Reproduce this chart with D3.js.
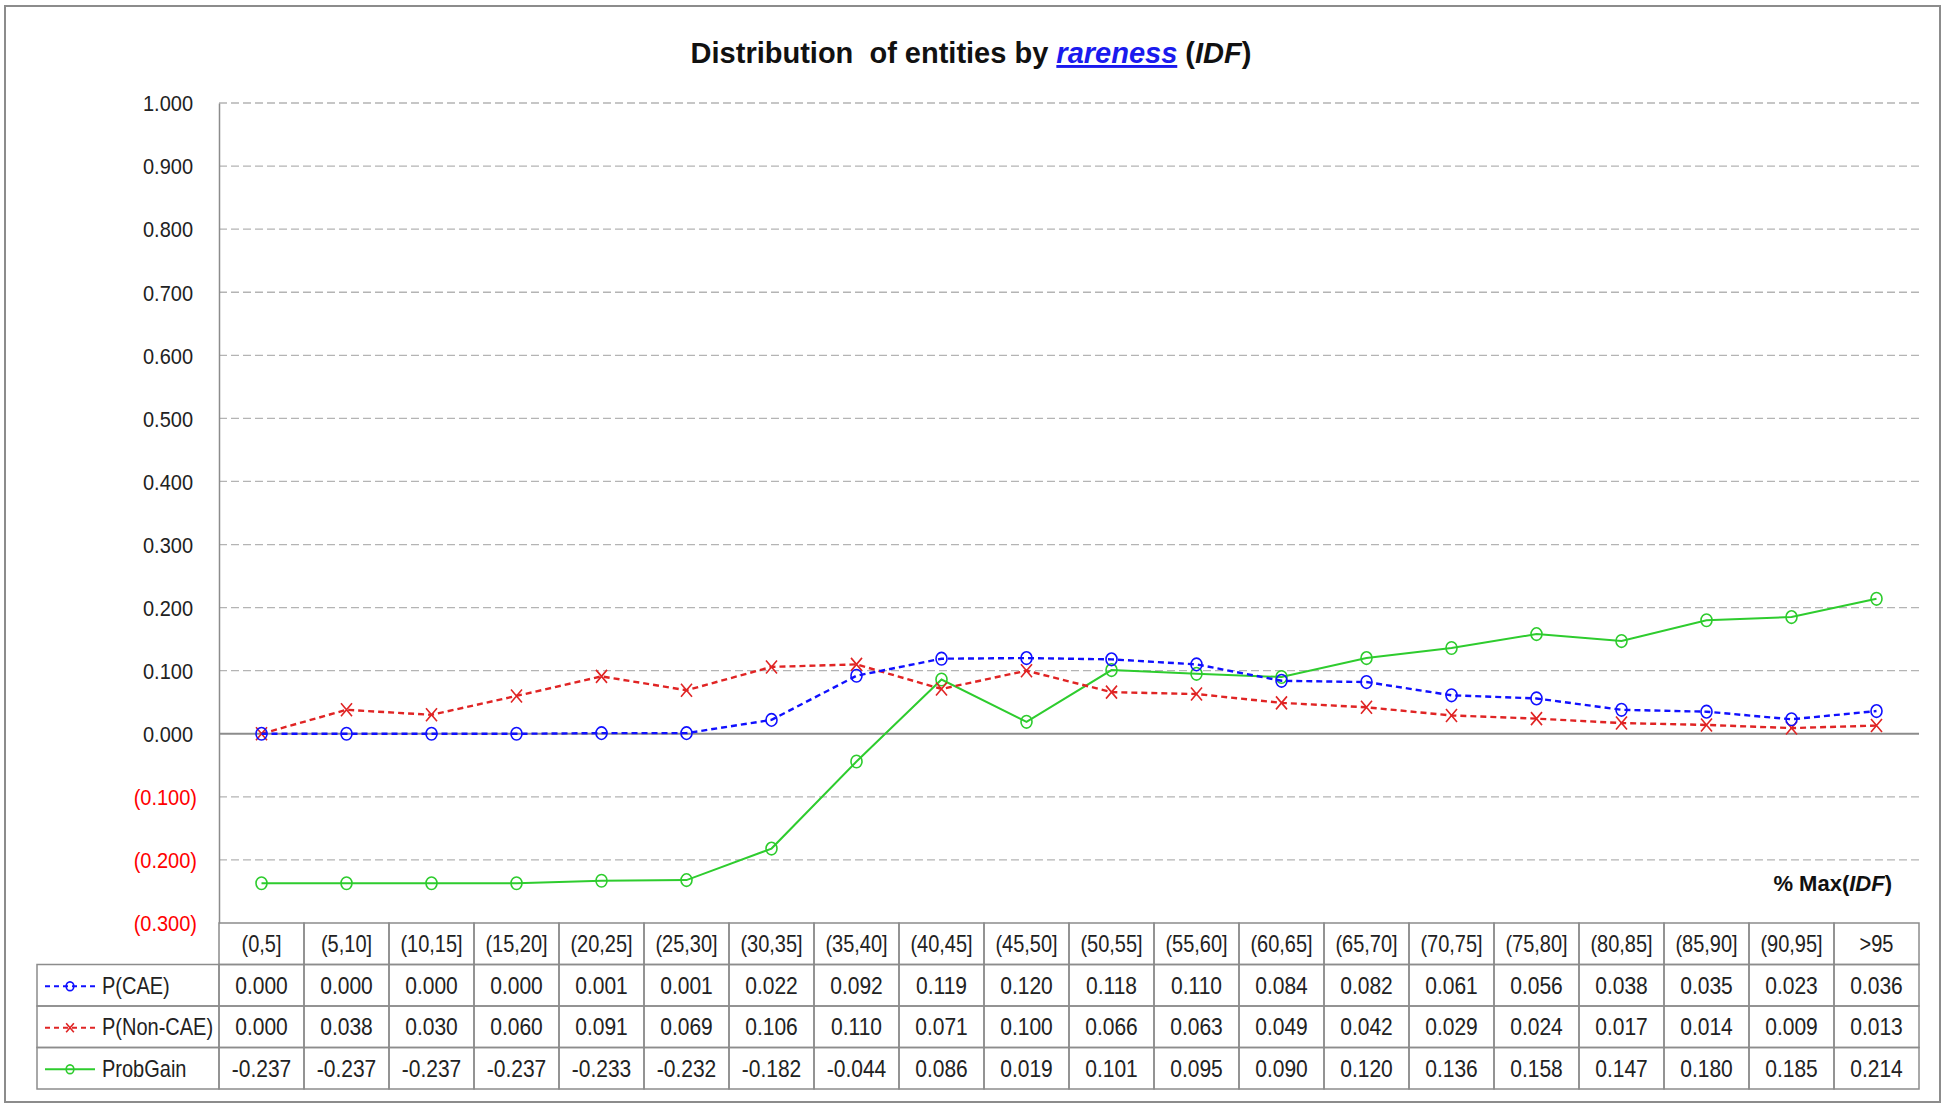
<!DOCTYPE html>
<html>
<head>
<meta charset="utf-8">
<script src="https://cdn.jsdelivr.net/npm/d3@7"></script>
<style>
  body { margin: 0; background: #fff; }
  text { font-family: "Liberation Sans", Arial, sans-serif; }
</style>
</head>
<body>
<div id="chart"></div>
<script>
// bins of % Max(IDF)
var categories = ["(0,5]", "(5,10]", "(10,15]", "(15,20]", "(20,25]", "(25,30]", "(30,35]",
  "(35,40]", "(40,45]", "(45,50]", "(50,55]", "(55,60]", "(60,65]", "(65,70]", "(70,75]",
  "(75,80]", "(80,85]", "(85,90]", "(90,95]", ">95"];

var pCAE = [0.000, 0.000, 0.000, 0.000, 0.001, 0.001, 0.022, 0.092, 0.119, 0.120,
  0.118, 0.110, 0.084, 0.082, 0.061, 0.056, 0.038, 0.035, 0.023, 0.036];

var pNonCAE = [0.000, 0.038, 0.030, 0.060, 0.091, 0.069, 0.106, 0.110, 0.071, 0.100,
  0.066, 0.063, 0.049, 0.042, 0.029, 0.024, 0.017, 0.014, 0.009, 0.013];

var probGain = [-0.237, -0.237, -0.237, -0.237, -0.233, -0.232, -0.182, -0.044, 0.086, 0.019,
  0.101, 0.095, 0.090, 0.120, 0.136, 0.158, 0.147, 0.180, 0.185, 0.214];

var yTicks = [-0.3, -0.2, -0.1, 0, 0.1, 0.2, 0.3, 0.4, 0.5, 0.6, 0.7, 0.8, 0.9, 1.0];

var seriesNames = ["P(CAE)", "P(Non-CAE)", "ProbGain"];

// svg size
var svgWidth = 1946;
var svgHeight = 1111;

var plot = { left: 219, right: 1919, top: 103, bottom: 923 };
var rowH = 41.5;
var legendLeft = 37;

// plain hyphen minus like the spreadsheet, not the unicode minus
var fmt3 = d => (d < 0 ? "-" : "") + d3.format(".3f")(Math.abs(d));

var svg = d3.select("#chart")
  .append("svg")
  .attr("width", svgWidth)
  .attr("height", svgHeight);

// outer frame
svg.append("rect")
  .attr("x", 5).attr("y", 6)
  .attr("width", 1935).attr("height", 1096)
  .attr("fill", "#fff")
  .attr("stroke", "#8c8c8c")
  .attr("stroke-width", 2);

// scales
var xScale = d3.scaleBand()
  .domain(categories)
  .range([plot.left, plot.right]);

var yScale = d3.scaleLinear()
  .domain([-0.3, 1.0])
  .range([plot.bottom, plot.top]);

// gridlines
svg.append("g").selectAll("line")
  .data(yTicks.filter(d => d !== 0 && d !== -0.3))
  .enter()
  .append("line")
  .attr("x1", plot.left)
  .attr("x2", plot.right)
  .attr("y1", d => yScale(d))
  .attr("y2", d => yScale(d))
  .attr("stroke", "#b4b4b4")
  .attr("stroke-width", 1.3)
  .attr("stroke-dasharray", "8,4");

// zero line
svg.append("line")
  .attr("x1", plot.left).attr("x2", plot.right)
  .attr("y1", yScale(0)).attr("y2", yScale(0))
  .attr("stroke", "#8c8c8c")
  .attr("stroke-width", 2);

// y axis
var leftAxis = d3.axisLeft(yScale)
  .tickValues(yTicks)
  .tickSize(0)
  .tickPadding(0)
  .tickFormat(d => d < 0 ? "(" + d3.format(".3f")(-d) + ")" : d3.format(".3f")(d));

var yAxisG = svg.append("g")
  .attr("transform", `translate(${plot.left}, 0)`)
  .call(leftAxis);

yAxisG.select(".domain")
  .attr("stroke", "#8c8c8c")
  .attr("stroke-width", 1.5);

yAxisG.selectAll(".tick text")
  .attr("x", d => d < 0 ? -22 : -26)
  .attr("dy", "0.36em")
  .attr("transform", "scale(1,1.08)")
  .style("font-family", "'Liberation Sans', Arial, sans-serif")
  .style("font-size", "20px")
  .attr("fill", d => d < 0 ? "#ff0000" : "#222");

// series styling
var series = [
  { name: seriesNames[0], values: pCAE, color: "#1010ff", dash: "6,4", width: 2.4, marker: "circle" },
  { name: seriesNames[1], values: pNonCAE, color: "#e02424", dash: "6,4", width: 2.4, marker: "cross" },
  { name: seriesNames[2], values: probGain, color: "#2ecc2e", dash: null, width: 2, marker: "circle" }
];

var drawLine = d3.line()
  .x((d, i) => xScale(categories[i]) + xScale.bandwidth() / 2)
  .y(d => yScale(d));

function drawMarker(sel, s, k) {
  if (s.marker === "circle") {
    sel.append("ellipse")
      .attr("rx", 5.5 * k)
      .attr("ry", 6.3 * k)
      .attr("fill", "none")
      .attr("stroke", s.color)
      .attr("stroke-width", 1.6);
  } else {
    sel.append("path")
      .attr("d", `M${-5.5 * k},${-6.5 * k}L${5.5 * k},${6.5 * k}M${-5.5 * k},${6.5 * k}L${5.5 * k},${-6.5 * k}`)
      .attr("stroke", s.color)
      .attr("stroke-width", 1.6);
  }
}

// lines (ProbGain first so the dashed series sit on top)
var seriesOrder = [series[2], series[1], series[0]];

seriesOrder.forEach(function(s) {
  svg.append("path")
    .datum(s.values)
    .attr("d", drawLine)
    .attr("fill", "none")
    .attr("stroke", s.color)
    .attr("stroke-width", s.width)
    .attr("stroke-dasharray", s.dash);

  var pts = svg.append("g").selectAll("g")
    .data(s.values)
    .enter()
    .append("g")
    .attr("transform", (d, i) => `translate(${xScale(categories[i]) + xScale.bandwidth() / 2}, ${yScale(d)})`);

  drawMarker(pts, s, 1);
});

// title
var title = svg.append("text")
  .attr("x", 971)
  .attr("y", 63)
  .attr("text-anchor", "middle")
  .style("font-size", "29px")
  .style("font-weight", "bold")
  .style("white-space", "pre")
  .attr("fill", "#111");
title.append("tspan").text("Distribution  of entities by ");
title.append("tspan")
  .text("rareness")
  .attr("fill", "#1a1aee")
  .style("font-style", "italic")
  .style("text-decoration", "underline");
title.append("tspan").text(" (");
title.append("tspan").text("IDF").style("font-style", "italic");
title.append("tspan").text(")");

// x axis title
var xTitle = svg.append("text")
  .attr("x", 1892)
  .attr("y", 891)
  .attr("text-anchor", "end")
  .style("font-size", "22px")
  .style("font-weight", "bold")
  .attr("fill", "#111");
xTitle.append("tspan").text("% Max(");
xTitle.append("tspan").text("IDF").style("font-style", "italic");
xTitle.append("tspan").text(")");

// data table
var table = svg.append("g");
var gridColor = "#8c8c8c";

// text placed with a slight vertical stretch, like the narrow spreadsheet font
function cellText(g, x, y, txt, anchor, sx) {
  return g.append("text")
    .attr("transform", `translate(${x}, ${y}) scale(${sx}, 1.2)`)
    .attr("dy", "0.36em")
    .attr("text-anchor", anchor)
    .style("font-size", "20px")
    .attr("fill", "#222")
    .text(txt);
}

// header row cells
table.selectAll(".hdr")
  .data(categories)
  .enter()
  .append("rect")
  .attr("x", d => xScale(d))
  .attr("y", plot.bottom)
  .attr("width", xScale.bandwidth())
  .attr("height", rowH)
  .attr("fill", "none")
  .attr("stroke", gridColor)
  .attr("stroke-width", 1.5);

categories.forEach(function(c) {
  cellText(table, xScale(c) + xScale.bandwidth() / 2, plot.bottom + rowH / 2, c, "middle", 1);
});

// series rows
series.forEach(function(s, r) {
  var y0 = plot.bottom + rowH * (r + 1);

  table.append("rect")
    .attr("x", legendLeft)
    .attr("y", y0)
    .attr("width", plot.left - legendLeft)
    .attr("height", rowH)
    .attr("fill", "none")
    .attr("stroke", gridColor)
    .attr("stroke-width", 1.5);

  // legend key
  var ky = y0 + rowH / 2 + 1;
  table.append("line")
    .attr("x1", 45).attr("x2", 95)
    .attr("y1", ky).attr("y2", ky)
    .attr("stroke", s.color)
    .attr("stroke-width", s.dash ? 1.8 : 2)
    .attr("stroke-dasharray", s.dash ? "5,4" : null);
  drawMarker(table.append("g").attr("transform", `translate(70, ${ky})`), s, 0.7);

  cellText(table, 102, y0 + rowH / 2, s.name, "start", 1);

  table.selectAll(".cell" + r)
    .data(s.values)
    .enter()
    .append("rect")
    .attr("x", (d, i) => xScale(categories[i]))
    .attr("y", y0)
    .attr("width", xScale.bandwidth())
    .attr("height", rowH)
    .attr("fill", "none")
    .attr("stroke", gridColor)
    .attr("stroke-width", 1.5);

  s.values.forEach(function(v, i) {
    cellText(table, xScale(categories[i]) + xScale.bandwidth() / 2, y0 + rowH / 2, fmt3(v), "middle", 1.05);
  });
});
</script>
</body>
</html>
